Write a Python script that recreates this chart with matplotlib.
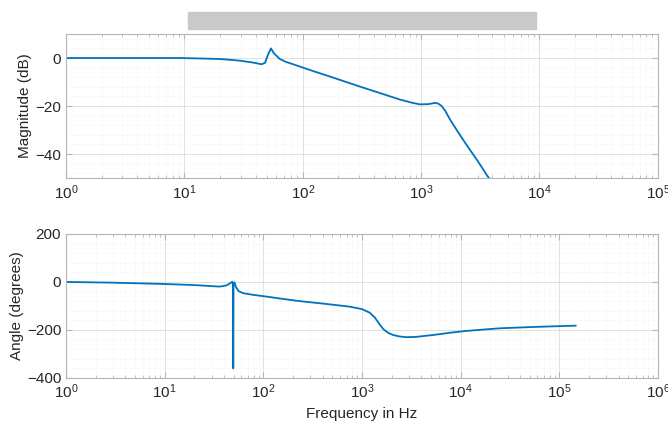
import matplotlib
matplotlib.use("Agg")
import matplotlib.pyplot as plt
from matplotlib.ticker import LogLocator, MultipleLocator, NullFormatter

plt.rcParams['font.family'] = ['Liberation Sans', 'DejaVu Sans']
plt.rcParams['mathtext.fontset'] = 'custom'
plt.rcParams['mathtext.rm'] = 'Liberation Sans'
plt.rcParams['mathtext.it'] = 'Liberation Sans'

# magnitude curve
mag_f = [1, 3, 9.2, 20, 29.5, 38, 45, 48, 51, 53.9, 57, 64, 72, 83, 95, 120,
         160, 206, 300, 449, 662, 850, 980, 1150, 1309, 1400, 1490, 1600,
         1750, 2000, 2420, 3000, 3630, 5000, 10000]
mag_db = [0, 0, 0, -0.4, -1.1, -1.9, -2.6, -2.0, 1.5, 4.0, 2.0, -0.4, -1.6,
          -2.6, -3.6, -5.3, -7.3, -9.1, -11.8, -14.6, -17.3, -18.7, -19.3,
          -19.2, -18.7, -19.0, -20.0, -22.0, -25.5, -30.0, -36.2, -42.8,
          -49.1, -58, -80]

# phase curve
ph_f = [1, 3, 9, 20, 36, 42, 46, 48.5, 49.3, 49.55, 49.65, 49.9, 51, 53,
        56, 62.7, 80, 108, 160, 235, 400, 755, 1000, 1200, 1350, 1500, 1650,
        1850, 2076, 2400, 2830, 3500, 5250, 8000, 11400, 25000, 54500, 146600]
ph_deg = [0, -3, -8, -13, -19.4, -15, -6, 1, -10, -360, -360, -5, -2, -22,
          -38, -47, -54, -61, -71, -80, -90, -103, -113, -128, -148, -175,
          -197, -212, -221, -227, -230, -229, -221, -211, -204, -193, -187.5,
          -182]

blue = '#0072BD'
edge = '#b5b5b5'
txt = '#262626'

fig = plt.figure(figsize=(6.68, 4.25), dpi=100)

# gray title bar
fig.patches.append(plt.Rectangle((0.2814, 0.9318), 0.521, 0.04,
                                 transform=fig.transFigure, color='#c9c9c9'))

ax1 = fig.add_axes([0.0988, 0.581, 0.886, 0.339])
ax2 = fig.add_axes([0.0988, 0.1106, 0.886, 0.339])

ax1.plot(mag_f, mag_db, color=blue, lw=1.3)
ax2.plot(ph_f, ph_deg, color=blue, lw=1.3)

ax1.set_xscale('log')
ax1.set_xlim(1, 1e5)
ax1.set_ylim(-50, 10)
ax1.yaxis.set_major_locator(MultipleLocator(20))
ax1.yaxis.set_minor_locator(MultipleLocator(4))
ax1.set_ylabel('Magnitude (dB)', fontsize=11, color=txt, labelpad=2)

ax2.set_xscale('log')
ax2.set_xlim(1, 1e6)
ax2.set_ylim(-400, 200)
ax2.yaxis.set_major_locator(MultipleLocator(200))
ax2.yaxis.set_minor_locator(MultipleLocator(40))
ax2.set_ylabel('Angle (degrees)', fontsize=11, color=txt, labelpad=2)
ax2.set_xlabel('Frequency in Hz', fontsize=11, color=txt)

for ax in (ax1, ax2):
    ax.xaxis.set_major_locator(LogLocator(base=10, numticks=10))
    ax.xaxis.set_minor_locator(LogLocator(base=10, subs=range(2, 10), numticks=20))
    ax.xaxis.set_minor_formatter(NullFormatter())
    ax.grid(True, which='major', color='#dcdcdc', lw=0.6)
    ax.grid(True, which='minor', color='#ececec', lw=0.5, ls=':')
    ax.tick_params(which='both', direction='in', top=True, right=True,
                   colors=edge, labelcolor=txt, labelsize=11)
    ax.tick_params(which='major', length=4)
    ax.tick_params(which='minor', length=2.5)
    ax.tick_params(axis='y', which='minor', length=0)
    for s in ax.spines.values():
        s.set_color(edge)
        s.set_linewidth(0.8)

fig.savefig('out.png', dpi=100)
